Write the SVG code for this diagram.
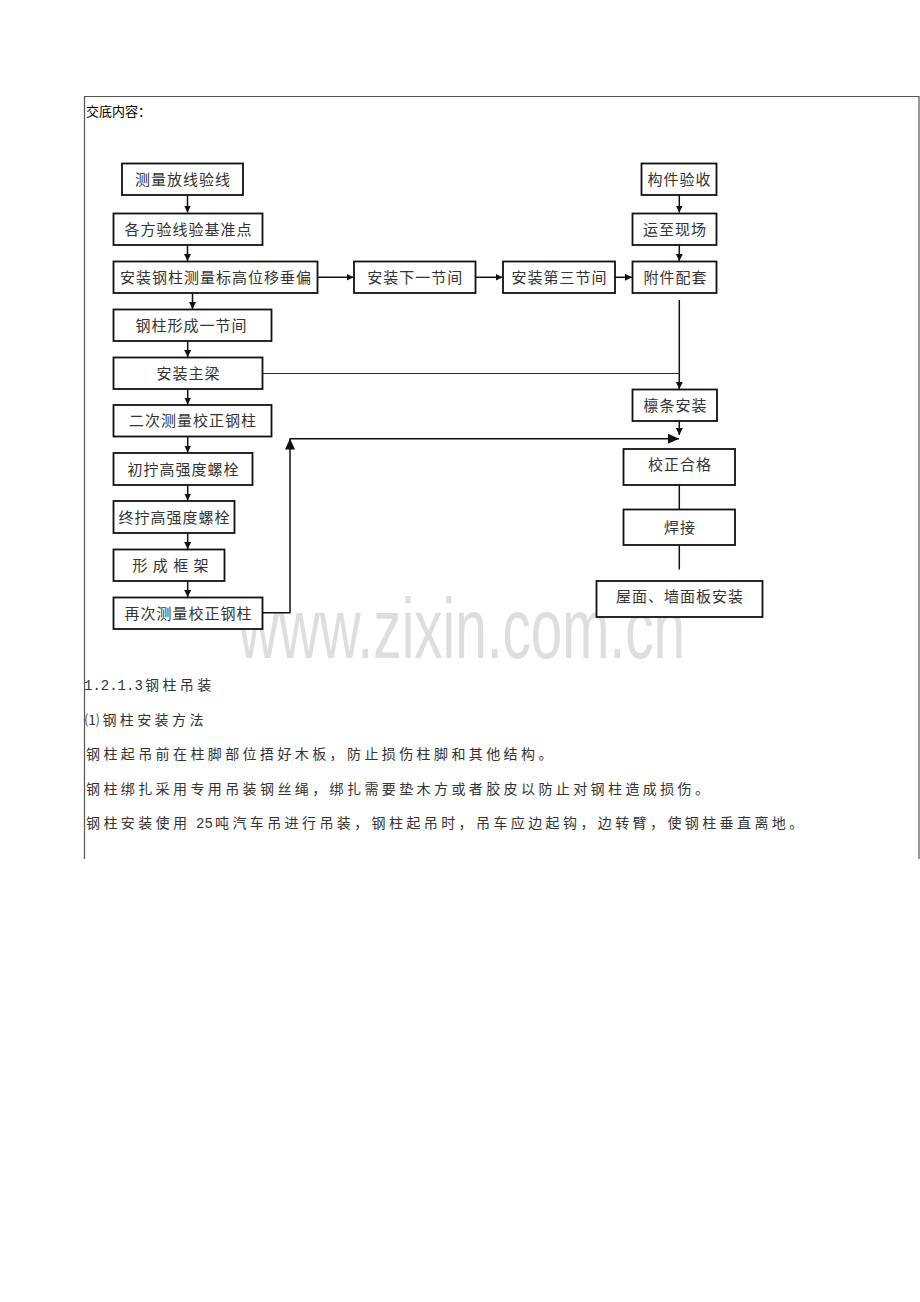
<svg xmlns="http://www.w3.org/2000/svg" width="920" height="1302" viewBox="0 0 920 1302">
<style>
.bx{fill:#fff;stroke:#111;stroke-width:1.8}
.bt{font-family:"Noto Sans CJK SC","Liberation Sans",sans-serif;font-size:15px;letter-spacing:1px;fill:#333;text-anchor:middle}
.ln{fill:none;stroke:#111;stroke-width:1.5}
.body{font-family:"Noto Sans CJK SC","Liberation Sans",sans-serif;font-size:14px;letter-spacing:3.4px;fill:#333}
.mono{font-family:"Liberation Mono",monospace;font-size:14px;letter-spacing:0}
</style>
<defs>
<marker id="as" markerUnits="userSpaceOnUse" markerWidth="8" markerHeight="8" refX="7" refY="3.5" orient="auto"><path d="M0,0 L7,3.5 L0,7 z" fill="#111"/></marker>
<marker id="al" markerUnits="userSpaceOnUse" markerWidth="12" markerHeight="12" refX="11" refY="5" orient="auto"><path d="M0,0 L11,5 L0,10 z" fill="#111"/></marker>
</defs>
<rect width="920" height="1302" fill="#fff"/>
<text x="238" y="658" font-family="Liberation Sans,Arial,sans-serif" font-size="86" fill="#dedede" textLength="447" lengthAdjust="spacingAndGlyphs">www.zixin.com.cn</text>
<g id="frame" fill="none" stroke="#555" stroke-width="1.2">
<path d="M84.5,859 V96.5 H919 V859"/>
</g>
<text x="86" y="116" font-family="Noto Sans CJK SC,Liberation Sans,sans-serif" font-size="13" fill="#000">交底内容：</text>
<g id="connectors">
<path class="ln" d="M187.5,195 V212.5" marker-end="url(#as)"/>
<path class="ln" d="M187.5,245 V261" marker-end="url(#as)"/>
<path class="ln" d="M192.5,293 V309" marker-end="url(#as)"/>
<path class="ln" d="M187.7,341 V357" marker-end="url(#as)"/>
<path class="ln" d="M187.7,389 V404.5" marker-end="url(#as)"/>
<path class="ln" d="M187.7,436.5 V452.5" marker-end="url(#as)"/>
<path class="ln" d="M187.7,485 V500.5" marker-end="url(#as)"/>
<path class="ln" d="M187.7,533 V549" marker-end="url(#as)"/>
<path class="ln" d="M187.7,581 V597" marker-end="url(#as)"/>
<path class="ln" d="M317.5,277.3 H353.5" marker-end="url(#as)"/>
<path class="ln" d="M475.5,277.3 H502.5" marker-end="url(#as)"/>
<path class="ln" d="M615,277.3 H632" marker-end="url(#as)"/>
<path class="ln" d="M679.3,195 V212.5" marker-end="url(#as)"/>
<path class="ln" d="M679.3,245 V261" marker-end="url(#as)"/>
<path class="ln" d="M679.3,300 V389" marker-end="url(#as)"/>
<path fill="none" stroke="#1010d8" stroke-width="1.2" d="M262.7,373.5 H679.3"/>
<path class="ln" d="M679.3,421 V435" marker-end="url(#as)"/>
<path class="ln" d="M262.5,612.7 H290 V438.5" marker-end="url(#al)"/>
<path class="ln" d="M290,438.7 H679" marker-end="url(#al)"/>
<path class="ln" d="M679.3,485 V509.5"/>
<path class="ln" d="M679.3,545 V569.5"/>
</g>
<g id="n1"><rect class="bx" x="122" y="163.5" width="121" height="31.5"/><text class="bt" x="183" y="184.8">测量放线验线</text></g>
<g id="n2"><rect class="bx" x="113.5" y="213.5" width="149" height="31.5"/><text class="bt" x="188.5" y="234.8">各方验线验基准点</text></g>
<g id="n3"><rect class="bx" x="113.5" y="261.5" width="204" height="31.5"/><text class="bt" x="216" y="282.8">安装钢柱测量标高位移垂偏</text></g>
<g id="n4"><rect class="bx" x="113.5" y="309.5" width="158" height="31.5"/><text class="bt" x="191.5" y="330.8">钢柱形成一节间</text></g>
<g id="n5"><rect class="bx" x="113.5" y="357.5" width="149" height="31.5"/><text class="bt" x="188.5" y="378.8">安装主梁</text></g>
<g id="n6"><rect class="bx" x="113.5" y="405" width="158" height="31.5"/><text class="bt" x="193" y="426.3">二次测量校正钢柱</text></g>
<g id="n7"><rect class="bx" x="113.5" y="453" width="139" height="32"/><text class="bt" x="183.5" y="474.5">初拧高强度螺栓</text></g>
<g id="n8"><rect class="bx" x="113.5" y="501" width="121" height="32"/><text class="bt" x="174.5" y="522.5">终拧高强度螺栓</text></g>
<g id="n9"><rect class="bx" x="113.5" y="549.5" width="111" height="31.5"/><text class="bt" x="171" y="570.8">形 成 框 架</text></g>
<g id="n10"><rect class="bx" x="113.5" y="597.5" width="149" height="31.5"/><text class="bt" x="188.5" y="618.8">再次测量校正钢柱</text></g>
<g id="n11"><rect class="bx" x="354" y="261.5" width="121.5" height="31.5"/><text class="bt" x="415.3" y="282.8">安装下一节间</text></g>
<g id="n12"><rect class="bx" x="503" y="261.5" width="112" height="31.5"/><text class="bt" x="559.5" y="282.8">安装第三节间</text></g>
<g id="n13"><rect class="bx" x="632.5" y="261.5" width="84" height="31.5"/><text class="bt" x="675.5" y="282.8">附件配套</text></g>
<g id="n14"><rect class="bx" x="641.5" y="163.5" width="75" height="31.5"/><text class="bt" x="679.5" y="184.8">构件验收</text></g>
<g id="n15"><rect class="bx" x="632.5" y="213.5" width="84" height="31.5"/><text class="bt" x="675" y="234.8">运至现场</text></g>
<g id="n16"><rect class="bx" x="632.5" y="389.5" width="84.5" height="31.5"/><text class="bt" x="675.5" y="410.8">檩条安装</text></g>
<g id="n17"><rect class="bx" x="623.5" y="449" width="111.5" height="36"/><text class="bt" x="680" y="470">校正合格</text></g>
<g id="n18"><rect class="bx" x="623.5" y="509.5" width="111.5" height="35.5"/><text class="bt" x="680" y="533">焊接</text></g>
<g id="n19"><rect class="bx" x="596.5" y="581" width="166" height="36"/><text class="bt" x="680" y="602">屋面、墙面板安装</text></g>
<g id="body">
<text class="body" y="690"><tspan class="mono" x="84">1.2.1.3</tspan><tspan x="145">钢柱吊装</tspan></text>
<text class="body" x="85" y="724.5">⑴钢柱安装方法</text>
<text class="body" x="86" y="759">钢柱起吊前在柱脚部位捂好木板，防止损伤柱脚和其他结构。</text>
<text class="body" x="86" y="793.5">钢柱绑扎采用专用吊装钢丝绳，绑扎需要垫木方或者胶皮以防止对钢柱造成损伤。</text>
<text class="body" y="828"><tspan x="86">钢柱安装使用</tspan><tspan class="mono" x="196">25</tspan><tspan x="215">吨汽车吊进行吊装，钢柱起吊时，吊车应边起钩，边转臂，使钢柱垂直离地。</tspan></text>
</g>
</svg>
